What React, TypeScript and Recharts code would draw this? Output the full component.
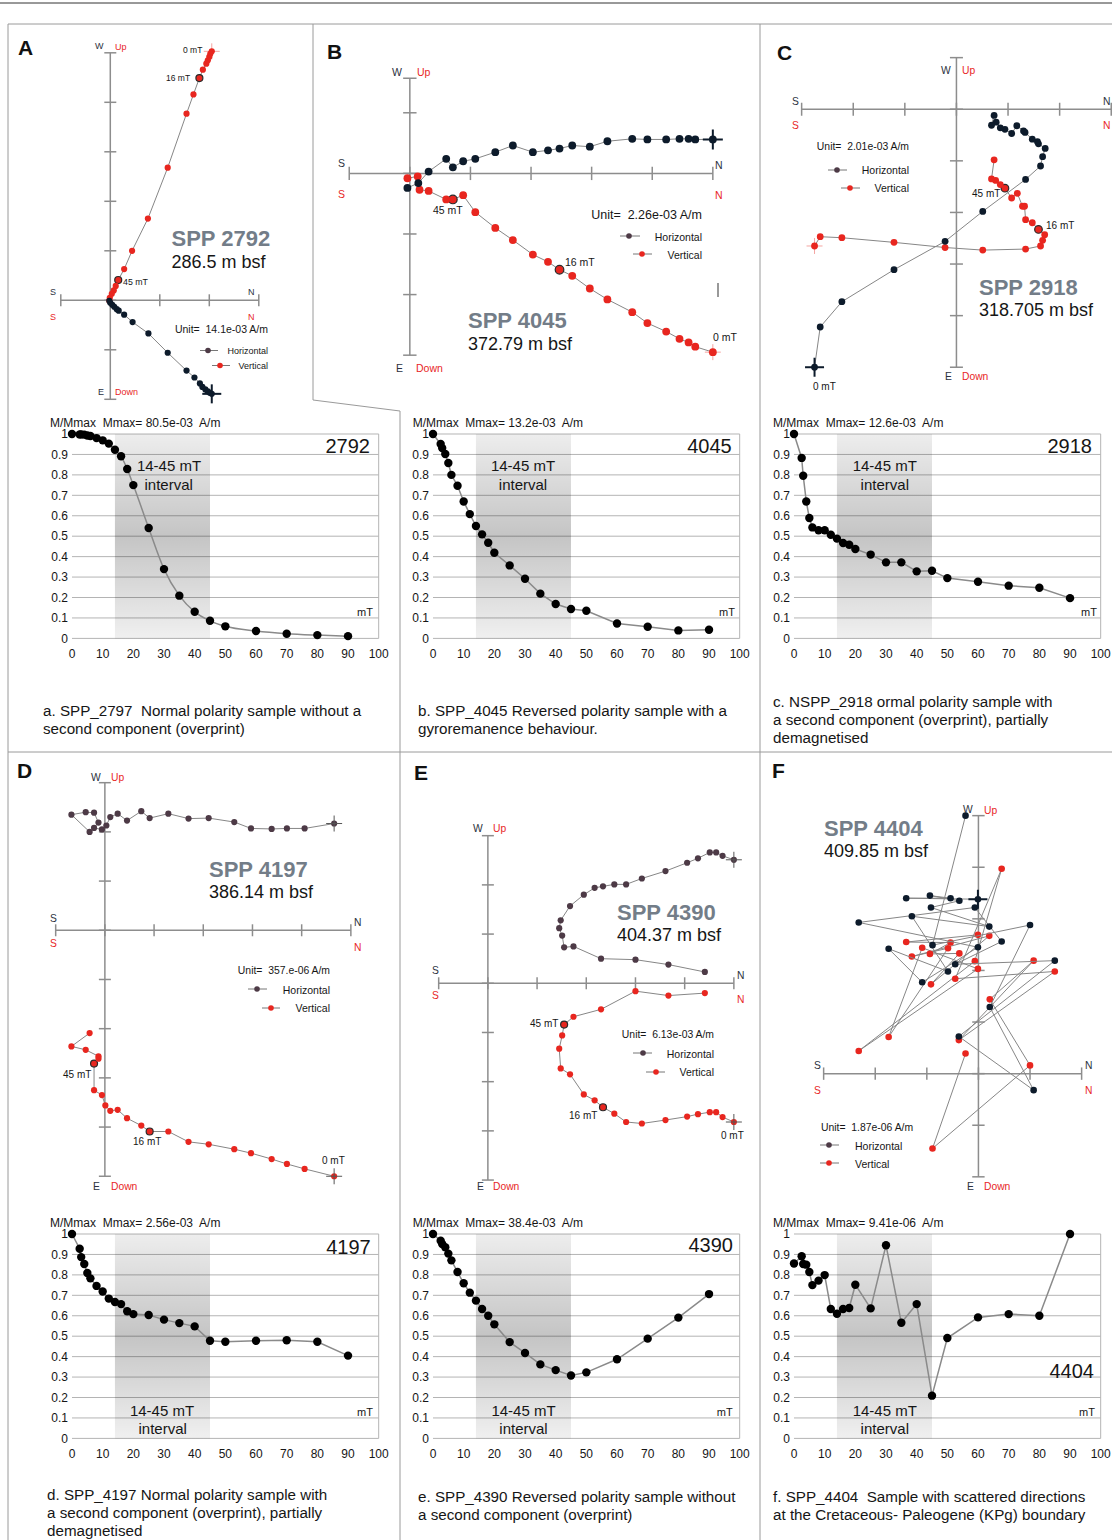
import React from 'react';
import {
  ScatterChart, Scatter, XAxis, YAxis, ReferenceLine, LineChart, Line,
  CartesianGrid, ReferenceArea,
} from 'recharts';

type P = [number, number];

// ---------- Demagnetisation data (M/Mmax vs AF field, mT) ----------
const FIELD_MT = [0, 2.5, 3, 4, 5, 6, 8, 10, 12, 14, 16, 18, 20, 25, 30, 35, 40, 45, 50, 60, 70, 80, 90];
const X_TICKS = [0, 10, 20, 30, 40, 50, 60, 70, 80, 90, 100];
const Y_TICKS = [0, 0.1, 0.2, 0.3, 0.4, 0.5, 0.6, 0.7, 0.8, 0.9, 1];
const M_2792 = [1.0, 0.998, 0.998, 0.997, 0.993, 0.99, 0.98, 0.969, 0.953, 0.923, 0.891, 0.829, 0.75, 0.54, 0.339, 0.209, 0.13, 0.086, 0.059, 0.036, 0.023, 0.016, 0.011];
const M_4045 = [1.0, 0.951, 0.931, 0.902, 0.858, 0.8, 0.747, 0.67, 0.608, 0.55, 0.509, 0.468, 0.419, 0.357, 0.292, 0.219, 0.168, 0.144, 0.135, 0.073, 0.057, 0.039, 0.042];
const M_2918 = [1.0, 0.883, 0.796, 0.67, 0.589, 0.543, 0.529, 0.529, 0.507, 0.488, 0.467, 0.458, 0.437, 0.41, 0.372, 0.372, 0.328, 0.331, 0.295, 0.277, 0.258, 0.248, 0.197];
const M_4197 = [1.0, 0.928, 0.887, 0.853, 0.809, 0.783, 0.746, 0.719, 0.684, 0.667, 0.657, 0.622, 0.608, 0.604, 0.581, 0.564, 0.548, 0.478, 0.473, 0.478, 0.48, 0.473, 0.405];
const M_4390 = [1.0, 0.967, 0.951, 0.935, 0.904, 0.871, 0.814, 0.759, 0.713, 0.674, 0.633, 0.6, 0.558, 0.471, 0.418, 0.362, 0.334, 0.308, 0.323, 0.387, 0.488, 0.591, 0.706];
const M_4404 = [0.856, 0.891, 0.853, 0.85, 0.814, 0.75, 0.772, 0.799, 0.633, 0.61, 0.633, 0.638, 0.752, 0.636, 0.945, 0.566, 0.657, 0.209, 0.491, 0.592, 0.608, 0.6, 1.0];

// ---------- Zijderveld data (in plot units, from 0 mT upward) ----------
const A_H: P[] = [[2.05, -1.89], [2.01, -1.87], [1.97, -1.84], [1.92, -1.8], [1.86, -1.75], [1.81, -1.68], [1.7, -1.56], [1.54, -1.42], [1.16, -1.06], [0.77, -0.67], [0.45, -0.44], [0.28, -0.29], [0.17, -0.21], [0.13, -0.18], [0.08, -0.13], [0.04, -0.09], [0.0, -0.05], [-0.02, -0.01]];
const A_V: P[] = [[2.05, 5.03], [2.02, 4.98], [2.0, 4.92], [1.97, 4.85], [1.94, 4.78], [1.87, 4.66], [1.8, 4.49], [1.68, 4.16], [1.54, 3.77], [1.16, 2.68], [0.76, 1.65], [0.44, 1.0], [0.28, 0.63], [0.16, 0.41], [0.11, 0.29], [0.07, 0.2], [0.03, 0.13], [-0.01, 0.05], [-0.02, -0.01]];
const B_H: P[] = [[5.0, 0.56], [4.71, 0.56], [4.6, 0.57], [4.45, 0.57], [4.23, 0.56], [3.92, 0.56], [3.67, 0.57], [3.26, 0.53], [2.97, 0.44], [2.68, 0.46], [2.47, 0.41], [2.28, 0.38], [2.03, 0.35], [1.7, 0.46], [1.41, 0.35], [1.08, 0.24], [0.88, 0.2], [0.71, 0.1], [0.6, 0.24], [0.31, 0.03], [0.14, -0.16], [-0.04, -0.24]];
const B_V: P[] = [[5.0, -2.95], [4.71, -2.86], [4.6, -2.79], [4.45, -2.73], [4.23, -2.61], [3.92, -2.47], [3.67, -2.29], [3.26, -2.08], [2.97, -1.9], [2.68, -1.69], [2.47, -1.59], [2.28, -1.46], [2.03, -1.34], [1.7, -1.1], [1.41, -0.9], [1.08, -0.64], [0.88, -0.36], [0.71, -0.43], [0.6, -0.43], [0.31, -0.29], [0.16, -0.27], [0.13, -0.05], [-0.04, -0.08]];
const C_H: P[] = [[-2.75, -5.0], [-2.64, -4.22], [-2.22, -3.73], [-1.21, -3.11], [-0.22, -2.56], [0.51, -1.98], [1.34, -1.36], [1.63, -1.1], [1.67, -0.92], [1.72, -0.76], [1.59, -0.67], [1.57, -0.63], [1.47, -0.58], [1.33, -0.45], [1.3, -0.42], [1.17, -0.32], [1.07, -0.47], [0.94, -0.39], [0.85, -0.36], [0.77, -0.25], [0.68, -0.31], [0.73, -0.12]];
const C_V: P[] = [[-2.75, -2.65], [-2.64, -2.47], [-2.22, -2.49], [-1.21, -2.58], [-0.22, -2.68], [0.51, -2.73], [1.34, -2.71], [1.63, -2.65], [1.67, -2.54], [1.71, -2.43], [1.59, -2.33], [1.47, -2.2], [1.34, -2.14], [1.32, -1.88], [1.28, -1.88], [1.18, -1.63], [1.07, -1.72], [0.94, -1.53], [0.85, -1.46], [0.76, -1.38], [0.68, -1.35], [0.73, -0.98]];
const D_H: P[] = [[4.66, 2.17], [4.06, 2.07], [3.7, 2.07], [3.39, 2.06], [2.97, 2.07], [2.63, 2.2], [2.11, 2.28], [1.7, 2.27], [1.29, 2.37], [0.91, 2.28], [0.74, 2.42], [0.45, 2.23], [0.26, 2.37], [0.11, 2.3], [0.03, 2.13], [-0.06, 2.05], [-0.22, 2.08], [-0.13, 2.19], [-0.22, 2.39], [-0.39, 2.4], [-0.68, 2.35], [-0.31, 2.0]];
const D_V: P[] = [[4.66, -5.0], [4.06, -4.85], [3.7, -4.75], [3.39, -4.65], [2.97, -4.53], [2.63, -4.45], [2.11, -4.35], [1.7, -4.3], [1.29, -4.09], [0.91, -4.09], [0.74, -3.97], [0.45, -3.82], [0.26, -3.65], [0.11, -3.67], [0.01, -3.56], [-0.06, -3.35], [-0.22, -3.25], [-0.22, -2.71], [-0.13, -2.61], [-0.13, -2.56], [-0.39, -2.43], [-0.68, -2.36], [-0.31, -2.09]];
const E_H: P[] = [[5.0, 2.51], [4.77, 2.59], [4.64, 2.66], [4.51, 2.66], [4.27, 2.54], [4.05, 2.45], [3.61, 2.28], [3.13, 2.13], [2.81, 2.01], [2.57, 2.01], [2.34, 1.97], [2.17, 1.94], [1.95, 1.8], [1.67, 1.57], [1.48, 1.28], [1.45, 1.12], [1.51, 0.97], [1.55, 0.73], [1.74, 0.75], [2.3, 0.5], [3.0, 0.48], [3.67, 0.38], [4.41, 0.23]];
const E_V: P[] = [[5.0, -2.82], [4.77, -2.72], [4.64, -2.62], [4.51, -2.62], [4.27, -2.66], [4.05, -2.71], [3.61, -2.78], [3.13, -2.85], [2.81, -2.82], [2.57, -2.65], [2.34, -2.52], [2.17, -2.38], [1.95, -2.26], [1.67, -1.85], [1.48, -1.73], [1.45, -1.33], [1.51, -1.06], [1.55, -0.84], [1.74, -0.68], [2.3, -0.53], [3.0, -0.16], [3.67, -0.25], [4.41, -0.2]];
const F_H: P[] = [[-0.01, 3.38], [-1.4, 3.4], [-0.54, 3.4], [-0.94, 3.45], [-0.37, 3.35], [-0.92, 3.22], [0.21, 2.85], [-1.29, 3.05], [-0.59, 1.98], [-1.74, 2.42], [-1.09, 1.77], [-0.01, 2.45], [-2.32, 2.93], [-0.07, 3.22], [0.45, 2.56], [-0.45, 2.12], [1.48, 2.19], [-0.38, 0.72], [1.07, -0.32], [0.22, 1.29], [1.0, 2.88], [-0.89, 2.49], [-0.25, 5.0]];
const F_V: P[] = [[-0.01, 2.69], [-1.4, 2.55], [-0.54, 2.54], [-0.94, 2.32], [-0.37, 2.33], [-0.92, 1.73], [0.21, 2.67], [-1.29, 2.27], [-0.59, 2.43], [-1.74, 0.71], [-1.09, 2.44], [-0.01, 2.03], [-2.32, 0.44], [-0.07, 2.18], [0.45, 3.97], [-0.45, 1.84], [1.48, 1.98], [-0.38, 0.65], [1.07, 2.19], [0.22, 1.44], [1.0, 0.16], [-0.89, -1.45], [-0.25, 0.39]];

// ---------- styling ----------
const FONT = '"Liberation Sans", Arial, Helvetica, sans-serif';
const RED = '#e8261f';
const NAVY = '#0d1b2b';
const PLUM = '#4d3a46';
const AXIS = '#8d8d8d';
const LINK = '#868686';
const DK = '#2b3140';
const BK = '#161616';
const GRAY = '#737d88';

const PALE = { a: 8, w: 1, color: '#f4a5a1', top: false };
const THICK = { a: 9.5, w: 2, color: NAVY, top: true };
const THIN = { a: 8, w: 1, color: '#555', top: true };

const ZIJ = [
  { id: 'A', ox: 110, oy: 300, unit: 49.5, hx: [-1, 3], vy: [-2, 5], h: A_H, v: A_V, hColor: NAVY, r: 3.1, marked: [6, 13], hCross: THICK, vCross: PALE, tick: 6 },
  { id: 'B', ox: 410, oy: 173.3, unit: 60.6, hx: [-1, 5], vy: [-3, 1.57], h: B_H, v: B_V, hColor: NAVY, r: 3.9, marked: [10, 17], hCross: { ...THICK, a: 10 }, vCross: PALE, tick: 6.7 },
  { id: 'C', ox: 956.7, oy: 109.3, unit: 51.6, hx: [-3, 3], vy: [-5, 1], h: C_H, v: C_V, hColor: NAVY, r: 3.4, marked: [10, 17], hCross: THICK, vCross: PALE, tick: 6.5 },
  { id: 'D', ox: 105.3, oy: 930.7, unit: 49.2, hx: [-1, 5], vy: [-5, 3], h: D_H, v: D_V, hColor: PLUM, r: 3.1, marked: [9, 17], hCross: THIN, vCross: THIN, tick: 6 },
  { id: 'E', ox: 488.3, oy: 983.7, unit: 49.2, hx: [-1, 5], vy: [-4, 3], h: E_H, v: E_V, hColor: PLUM, r: 3.1, marked: [10, 17], hCross: THIN, vCross: THIN, tick: 6 },
  { id: 'F', ox: 978.7, oy: 1074, unit: 51.6, hx: [-3, 2], vy: [-2, 5], h: F_H, v: F_V, hColor: NAVY, r: 3.3, marked: [], hCross: THICK, vCross: null, tick: 6.2 },
];

const PW = 306.7;
const PH = 204.4;
const DEM = [
  { id: '2792', px: 71.7, py: 434.3, m: M_2792, curve: 'monotone' },
  { id: '4045', px: 433.3, py: 434.3, m: M_4045, curve: 'linear' },
  { id: '2918', px: 794.3, py: 434.3, m: M_2918, curve: 'linear' },
  { id: '4197', px: 71.7, py: 1234.3, m: M_4197, curve: 'linear' },
  { id: '4390', px: 433.3, py: 1234.3, m: M_4390, curve: 'linear' },
  { id: '4404', px: 794.3, py: 1234.3, m: M_4404, curve: 'linear' },
];

function ticksOf(r: number[]) {
  const out: number[] = [];
  for (let t = Math.ceil(r[0]); t <= Math.floor(r[1]); t++) out.push(t);
  if (!Number.isInteger(r[0])) out.unshift(r[0]);
  if (!Number.isInteger(r[1])) out.push(r[1]);
  return out;
}

function renderDot(p: any, fill: string, r: number, cross: any) {
  const { cx, cy, payload } = p;
  if (cx == null || cy == null) return <g />;
  const showCross = cross && payload && payload.i === 0;
  const cr = showCross ? (
    <g key="c">
      <line x1={cx - cross.a} x2={cx + cross.a} y1={cy} y2={cy} stroke={cross.color} strokeWidth={cross.w} />
      <line x1={cx} x2={cx} y1={cy - cross.a} y2={cy + cross.a} stroke={cross.color} strokeWidth={cross.w} />
    </g>
  ) : null;
  const mk = payload && payload.mk;
  return (
    <g>
      {showCross && !cross.top ? cr : null}
      <circle cx={cx} cy={cy} r={mk ? r + 0.4 : r} fill={fill} stroke={mk ? '#2a2a2a' : 'none'} strokeWidth={mk ? 1.2 : 0} />
      {showCross && cross.top ? cr : null}
    </g>
  );
}

function Zijder({ c }: { c: any }) {
  const pad = 0.4;
  const x0 = c.hx[0] - pad, x1 = c.hx[1] + pad, y0 = c.vy[0] - pad, y1 = c.vy[1] + pad;
  const left = c.ox + x0 * c.unit;
  const top = c.oy - y1 * c.unit;
  const w = (x1 - x0) * c.unit;
  const h = (y1 - y0) * c.unit;
  const tl = c.tick / c.unit;
  const hData = c.h.map((p: P, i: number) => ({ x: p[0], y: p[1], i }));
  const vData = c.v.map((p: P, i: number) => ({ x: p[0], y: p[1], i, mk: c.marked.includes(i) }));
  return (
    <div style={{ position: 'absolute', left, top, width: w, height: h }}>
      <ScatterChart width={w} height={h} margin={{ top: 0, right: 0, bottom: 0, left: 0 }}>
        <XAxis type="number" dataKey="x" domain={[x0, x1]} hide allowDataOverflow />
        <YAxis type="number" dataKey="y" domain={[y0, y1]} hide allowDataOverflow />
        <ReferenceLine segment={[{ x: c.hx[0], y: 0 }, { x: c.hx[1], y: 0 }]} stroke={AXIS} strokeWidth={1.5} />
        <ReferenceLine segment={[{ x: 0, y: c.vy[0] }, { x: 0, y: c.vy[1] }]} stroke={AXIS} strokeWidth={1.5} />
        {ticksOf(c.hx).map((t) => (
          <ReferenceLine key={'h' + t} segment={[{ x: t, y: -tl }, { x: t, y: tl }]} stroke={AXIS} strokeWidth={1.5} />
        ))}
        {ticksOf(c.vy).map((t) => (
          <ReferenceLine key={'v' + t} segment={[{ x: -tl, y: t }, { x: tl, y: t }]} stroke={AXIS} strokeWidth={1.5} />
        ))}
        <Scatter data={vData} line={{ stroke: LINK, strokeWidth: 1 }} isAnimationActive={false}
          shape={(p: any) => renderDot(p, RED, c.r, c.vCross)} />
        <Scatter data={hData} line={{ stroke: LINK, strokeWidth: 1 }} isAnimationActive={false}
          shape={(p: any) => renderDot(p, c.hColor, c.r, c.hCross)} />
      </ScatterChart>
    </div>
  );
}

const yFmt = (v: number) => (v === 0 ? '0' : v === 1 ? '1' : v.toFixed(1));

function Demag({ c }: { c: any }) {
  const data = FIELD_MT.map((f, i) => ({ f, m: c.m[i] }));
  const YW = 40, MT = 10, MR = 16, XH = 25;
  const W = YW + PW + MR, H = MT + PH + XH;
  const gid = 'shade' + c.id;
  return (
    <div style={{ position: 'absolute', left: c.px - YW, top: c.py - MT, width: W, height: H }}>
      <LineChart width={W} height={H} data={data} margin={{ top: MT, right: MR, bottom: 0, left: 0 }}>
        <defs>
          <linearGradient id={gid} x1="0" y1="0" x2="0" y2="1">
            <stop offset="0%" stopColor="#000" stopOpacity={0.07} />
            <stop offset="50%" stopColor="#000" stopOpacity={0.23} />
            <stop offset="100%" stopColor="#000" stopOpacity={0.06} />
          </linearGradient>
        </defs>
        <CartesianGrid vertical={false} stroke="#b4b4b4" strokeWidth={1} />
        <ReferenceArea x1={14} x2={45} y1={0} y2={1} fill={`url(#${gid})`} fillOpacity={1} strokeOpacity={0} />
        <ReferenceLine x={100} stroke="#b4b4b4" />
        <XAxis type="number" dataKey="f" domain={[0, 100]} ticks={X_TICKS} interval={0} axisLine={false} tickLine={false}
          tickSize={0} tickMargin={11} height={XH} tick={{ fontSize: 12, fill: BK, fontFamily: FONT }} />
        <YAxis type="number" domain={[0, 1]} ticks={Y_TICKS} interval={0} axisLine={false} tickLine={false}
          tickSize={0} tickMargin={4} width={YW} tickFormatter={yFmt} tick={{ fontSize: 12, fill: BK, fontFamily: FONT }} />
        <Line dataKey="m" type={c.curve} stroke="#8a8a8a" strokeWidth={1.5} isAnimationActive={false}
          dot={{ r: 4.2, fill: '#000', stroke: '#000', strokeWidth: 0 }} />
      </LineChart>
    </div>
  );
}

const CAP = 15.2;
type T = [string, number, number, number, string, string?, string?];
const TEXTS: T[] = [
  // panel letters
  ['A', 18, 47, 21, '#111', 'start', 'bold'], ['B', 327, 51, 21, '#111', 'start', 'bold'], ['C', 777, 52, 21, '#111', 'start', 'bold'],
  ['D', 17, 770, 21, '#111', 'start', 'bold'], ['E', 414, 772, 21, '#111', 'start', 'bold'], ['F', 772, 770, 21, '#111', 'start', 'bold'],
  // A
  ['W', 95, 46, 9, DK], ['Up', 115, 46.5, 9, RED], ['0 mT', 183, 50, 8.5, BK], ['16 mT', 166, 77.5, 8.5, BK], ['45 mT', 123, 281.5, 8.8, BK],
  ['S', 50, 292, 9, DK], ['N', 248, 292, 9, DK], ['S', 50, 316.5, 9, RED], ['N', 248, 316.5, 9, RED],
  ['E', 98, 392, 9, DK], ['Down', 115, 392, 9, RED],
  ['SPP 2792', 171.5, 238, 22, GRAY, 'start', 'bold'], ['286.5 m bsf', 171.5, 261.5, 18, BK],
  ['Unit=  14.1e-03 A/m', 268, 329, 10.5, BK, 'end'], ['Horizontal', 268, 350.5, 9, BK, 'end'], ['Vertical', 268, 365.5, 9, BK, 'end'],
  // B
  ['W', 392, 72, 10.5, DK], ['Up', 417, 72, 10.5, RED], ['S', 338, 163, 10.5, DK], ['S', 338, 194, 10.5, RED],
  ['N', 715, 165, 10.5, DK], ['N', 715, 195, 10.5, RED], ['45 mT', 433, 210, 10.5, BK], ['16 mT', 565, 262, 10.5, BK],
  ['0 mT', 713, 336.5, 10.5, BK], ['E', 396, 368, 10.5, DK], ['Down', 416, 368, 10.5, RED],
  ['SPP 4045', 468, 320, 22, GRAY, 'start', 'bold'], ['372.79 m bsf', 468, 343.5, 18, BK],
  ['Unit=  2.26e-03 A/m', 702, 215, 12.5, BK, 'end'], ['Horizontal', 702, 237, 10.5, BK, 'end'], ['Vertical', 702, 255, 10.5, BK, 'end'],
  // C
  ['W', 941, 70, 10.3, DK], ['Up', 962, 70, 10.3, RED], ['S', 792, 101, 10.3, DK], ['S', 792, 125.7, 10.3, RED],
  ['N', 1103, 101, 10.3, DK], ['N', 1103, 125.7, 10.3, RED],
  ['Unit=  2.01e-03 A/m', 909, 146, 10.4, BK, 'end'], ['Horizontal', 909, 170, 10.5, BK, 'end'], ['Vertical', 909, 188, 10.5, BK, 'end'],
  ['45 mT', 972, 193, 10, BK], ['16 mT', 1046, 225, 10, BK],
  ['SPP 2918', 979, 287, 22, GRAY, 'start', 'bold'], ['318.705 m bsf', 979, 310, 18, BK],
  ['0 mT', 813, 386, 10, BK], ['E', 945, 376.7, 10.3, DK], ['Down', 962, 376.7, 10.3, RED],
  // D
  ['W', 91, 777, 10.3, DK], ['Up', 111, 777, 10.3, RED],
  ['SPP 4197', 209, 869, 22, GRAY, 'start', 'bold'], ['386.14 m bsf', 209, 892, 18, BK],
  ['S', 50, 918, 10.3, DK], ['S', 50, 943, 10.3, RED], ['N', 354, 922, 10.3, DK], ['N', 354, 947, 10.3, RED],
  ['Unit=  357.e-06 A/m', 330, 970, 10.4, BK, 'end'], ['Horizontal', 330, 990, 10.5, BK, 'end'], ['Vertical', 330, 1008, 10.5, BK, 'end'],
  ['45 mT', 63, 1074, 10, BK], ['16 mT', 133, 1141, 10, BK], ['0 mT', 322, 1160, 10, BK],
  ['E', 93, 1186, 10.3, DK], ['Down', 111, 1186, 10.3, RED],
  // E
  ['W', 473, 828, 10.3, DK], ['Up', 493, 828, 10.3, RED],
  ['SPP 4390', 617, 912, 22, GRAY, 'start', 'bold'], ['404.37 m bsf', 617, 935, 18, BK],
  ['S', 432, 970, 10.3, DK], ['S', 432, 995, 10.3, RED], ['N', 737, 975, 10.3, DK], ['N', 737, 999, 10.3, RED],
  ['45 mT', 530, 1023, 10, BK], ['Unit=  6.13e-03 A/m', 714, 1034, 10.4, BK, 'end'],
  ['Horizontal', 714, 1054, 10.5, BK, 'end'], ['Vertical', 714, 1072, 10.5, BK, 'end'],
  ['16 mT', 569, 1115, 10, BK], ['0 mT', 721, 1135, 10, BK], ['E', 477, 1186, 10.3, DK], ['Down', 493, 1186, 10.3, RED],
  // F
  ['W', 963, 809, 10.3, DK], ['Up', 984, 810, 10.3, RED],
  ['SPP 4404', 824, 828, 22, GRAY, 'start', 'bold'], ['409.85 m bsf', 824, 851, 18, BK],
  ['S', 814, 1065, 10.3, DK], ['S', 814, 1090, 10.3, RED], ['N', 1085, 1065, 10.3, DK], ['N', 1085, 1090, 10.3, RED],
  ['Unit=  1.87e-06 A/m', 821, 1127, 10.4, BK], ['Horizontal', 855, 1146, 10.5, BK], ['Vertical', 855, 1164, 10.5, BK],
  ['E', 967, 1186, 10.3, DK], ['Down', 984, 1186, 10.3, RED],
  // demag titles
  ['M/Mmax  Mmax= 80.5e-03  A/m', 50, 423.3, 12, BK], ['M/Mmax  Mmax= 13.2e-03  A/m', 412.7, 423.3, 12, BK],
  ['M/Mmax  Mmax= 12.6e-03  A/m', 773, 423.3, 12, BK], ['M/Mmax  Mmax= 2.56e-03  A/m', 50, 1223.3, 12, BK],
  ['M/Mmax  Mmax= 38.4e-03  A/m', 412.7, 1223.3, 12, BK], ['M/Mmax  Mmax= 9.41e-06  A/m', 773, 1223.3, 12, BK],
  ['2792', 370, 446, 20, BK, 'end'], ['4045', 731.7, 446, 20, BK, 'end'], ['2918', 1092, 446, 20, BK, 'end'],
  ['4197', 370.7, 1246.7, 20, BK, 'end'], ['4390', 733, 1245, 20, BK, 'end'], ['4404', 1094, 1371, 20, BK, 'end'],
  ['14-45 mT', 169, 465.7, 15, BK, 'middle'], ['interval', 168.7, 484, 15, BK, 'middle'],
  ['14-45 mT', 523, 465.7, 15, BK, 'middle'], ['interval', 523, 484, 15, BK, 'middle'],
  ['14-45 mT', 884.8, 465.7, 15, BK, 'middle'], ['interval', 884.8, 484, 15, BK, 'middle'],
  ['14-45 mT', 162, 1410, 15, BK, 'middle'], ['interval', 162.7, 1428.3, 15, BK, 'middle'],
  ['14-45 mT', 523.5, 1410, 15, BK, 'middle'], ['interval', 523.5, 1428.3, 15, BK, 'middle'],
  ['14-45 mT', 884.8, 1410, 15, BK, 'middle'], ['interval', 884.8, 1428.3, 15, BK, 'middle'],
  ['mT', 373, 612, 11, BK, 'end'], ['mT', 735, 612, 11, BK, 'end'], ['mT', 1097, 612, 11, BK, 'end'],
  ['mT', 373, 1412.3, 11, BK, 'end'], ['mT', 732.7, 1412.3, 11, BK, 'end'], ['mT', 1095, 1412.3, 11, BK, 'end'],
  // captions
  ['a. SPP_2797  Normal polarity sample without a', 43, 710, CAP, BK], ['second component (overprint)', 43, 728, CAP, BK],
  ['b. SPP_4045 Reversed polarity sample with a', 418, 710, CAP, BK], ['gyroremanence behaviour.', 418, 728, CAP, BK],
  ['c. NSPP_2918 ormal polarity sample with', 773, 701, CAP, BK], ['a second component (overprint), partially', 773, 719, CAP, BK],
  ['demagnetised', 773, 737, CAP, BK],
  ['d. SPP_4197 Normal polarity sample with', 47, 1494, CAP, BK], ['a second component (overprint), partially', 47, 1512, CAP, BK],
  ['demagnetised', 47, 1530, CAP, BK],
  ['e. SPP_4390 Reversed polarity sample without', 418, 1496, CAP, BK], ['a second component (overprint)', 418, 1514, CAP, BK],
  ['f. SPP_4404  Sample with scattered directions', 773, 1496, CAP, BK], ['at the Cretaceous- Paleogene (KPg) boundary', 773, 1514, CAP, BK],
];

// legend markers: x1, x2, dot x, y, colour
const LEGEND_MARKS: [number, number, number, number, string][] = [
  [200, 218, 208, 350.5, PLUM], [212, 230, 220, 365.5, RED],
  [620, 640, 629, 236, PLUM], [633, 652, 642, 254, RED],
  [828, 847, 837, 170, PLUM], [841, 860, 850, 188, RED],
  [248, 267, 257, 989, PLUM], [262, 280, 271, 1008, RED],
  [633, 652, 643, 1053, PLUM], [646, 665, 656, 1072, RED],
  [820, 839, 829, 1145, PLUM], [820, 839, 829, 1163, RED],
];

// frame lines
const FRAME: [number, number, number, number, string, number][] = [
  [0, 3, 1112, 3, '#333', 1],
  [8, 24, 1112, 24, '#9a9a9a', 1],
  [8, 24, 8, 1540, '#9a9a9a', 1],
  [313, 24, 313, 400, '#9a9a9a', 1],
  [313, 400, 400, 411, '#9a9a9a', 1],
  [400, 411, 400, 1540, '#9a9a9a', 1],
  [760, 24, 760, 1540, '#9a9a9a', 1],
  [8, 752, 1112, 752, '#9a9a9a', 1],
  [718, 283, 718, 297, '#777', 1.5],
];

function Overlay() {
  return (
    <svg width={1112} height={1540} style={{ position: 'absolute', left: 0, top: 0, pointerEvents: 'none' }}>
      {FRAME.map((l, i) => (
        <line key={'f' + i} x1={l[0]} y1={l[1]} x2={l[2]} y2={l[3]} stroke={l[4]} strokeWidth={l[5]} />
      ))}
      {LEGEND_MARKS.map((m, i) => (
        <g key={'m' + i}>
          <line x1={m[0]} x2={m[1]} y1={m[3]} y2={m[3]} stroke="#777" strokeWidth={1} />
          <circle cx={m[2]} cy={m[3]} r={2.8} fill={m[4]} />
        </g>
      ))}
      {TEXTS.map((t, i) => (
        <text key={'t' + i} x={t[1]} y={t[2]} fontSize={t[3]} fill={t[4]} textAnchor={(t[5] as any) || 'start'}
          fontWeight={t[6] || 'normal'} dominantBaseline="central" fontFamily={FONT} style={{ whiteSpace: 'pre' }}>
          {t[0]}
        </text>
      ))}
    </svg>
  );
}

export default function App() {
  return (
    <div style={{ position: 'absolute', left: 0, top: 0, width: 1112, height: 1540, overflow: 'hidden', background: '#fff', fontFamily: FONT }}>
      {ZIJ.map((c) => <Zijder key={c.id} c={c} />)}
      {DEM.map((c) => <Demag key={c.id} c={c} />)}
      <Overlay />
    </div>
  );
}
